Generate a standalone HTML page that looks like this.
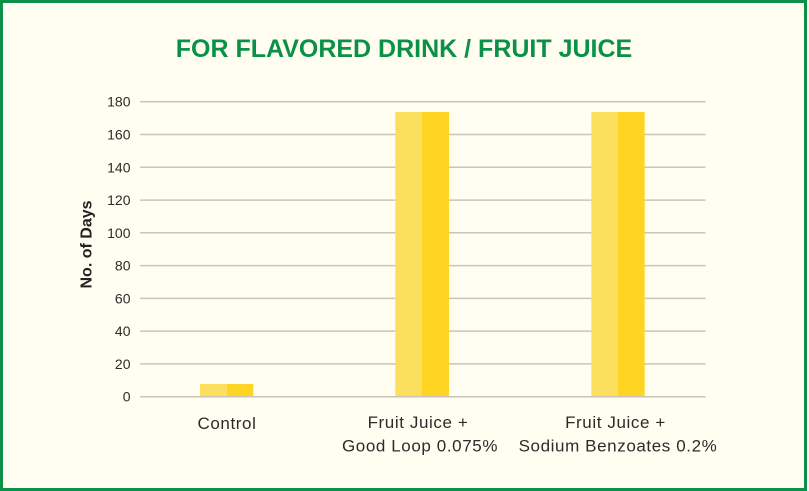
<!DOCTYPE html>
<html><head><meta charset="utf-8"><style>
html,body{margin:0;padding:0;background:#fffef1;}
svg{display:block;}
</style></head><body>
<svg width="809" height="491" viewBox="0 0 809 491" xmlns="http://www.w3.org/2000/svg">
<rect x="0" y="0" width="809" height="491" fill="#fffef1"/>
<rect x="1.5" y="1.5" width="804" height="488" fill="none" stroke="#0b9147" stroke-width="3"/>
<text x="404" y="57" text-anchor="middle" font-family="Liberation Sans, sans-serif" font-weight="bold" font-size="25" fill="#0b9147">FOR FLAVORED DRINK / FRUIT JUICE</text>
<g stroke="#c9c5b9" stroke-width="1.5">
<line x1="140" x2="705.5" y1="101.7" y2="101.7"/>
<line x1="140" x2="705.5" y1="134.5" y2="134.5"/>
<line x1="140" x2="705.5" y1="167.3" y2="167.3"/>
<line x1="140" x2="705.5" y1="200.1" y2="200.1"/>
<line x1="140" x2="705.5" y1="232.8" y2="232.8"/>
<line x1="140" x2="705.5" y1="265.6" y2="265.6"/>
<line x1="140" x2="705.5" y1="298.4" y2="298.4"/>
<line x1="140" x2="705.5" y1="331.1" y2="331.1"/>
<line x1="140" x2="705.5" y1="363.9" y2="363.9"/>
<line x1="140" x2="705.5" y1="396.7" y2="396.7"/>
</g>
<g font-family="Liberation Sans, sans-serif" font-size="14" fill="#2b2b2b" text-anchor="end">
<text x="130.5" y="106.7">180</text>
<text x="130.5" y="139.5">160</text>
<text x="130.5" y="172.3">140</text>
<text x="130.5" y="205.1">120</text>
<text x="130.5" y="237.8">100</text>
<text x="130.5" y="270.6">80</text>
<text x="130.5" y="303.4">60</text>
<text x="130.5" y="336.1">40</text>
<text x="130.5" y="368.9">20</text>
<text x="130.5" y="401.7">0</text>
</g>
<text transform="translate(91.5,244.5) rotate(-90)" text-anchor="middle" font-family="Liberation Sans, sans-serif" font-weight="bold" font-size="16" fill="#222">No. of Days</text>
<!-- bars -->
<rect x="200" y="384" width="26.7" height="12" fill="#fddf5e"/>
<rect x="226.7" y="384" width="26.6" height="12" fill="#fed523"/>
<rect x="395.3" y="112" width="26.7" height="284" fill="#fddf5e"/>
<rect x="422" y="112" width="27" height="284" fill="#fed523"/>
<rect x="591.3" y="112" width="26.7" height="284" fill="#fddf5e"/>
<rect x="618" y="112" width="26.7" height="284" fill="#fed523"/>
<g font-family="Liberation Sans, sans-serif" font-size="17" fill="#2b2b2b" text-anchor="middle" letter-spacing="0.6">
<text x="227" y="429">Control</text>
<text x="418" y="428">Fruit Juice +</text>
<text x="420" y="451.7">Good Loop 0.075%</text>
<text x="615.5" y="428">Fruit Juice +</text>
<text x="618" y="451.7">Sodium Benzoates 0.2%</text>
</g>
</svg>
</body></html>
